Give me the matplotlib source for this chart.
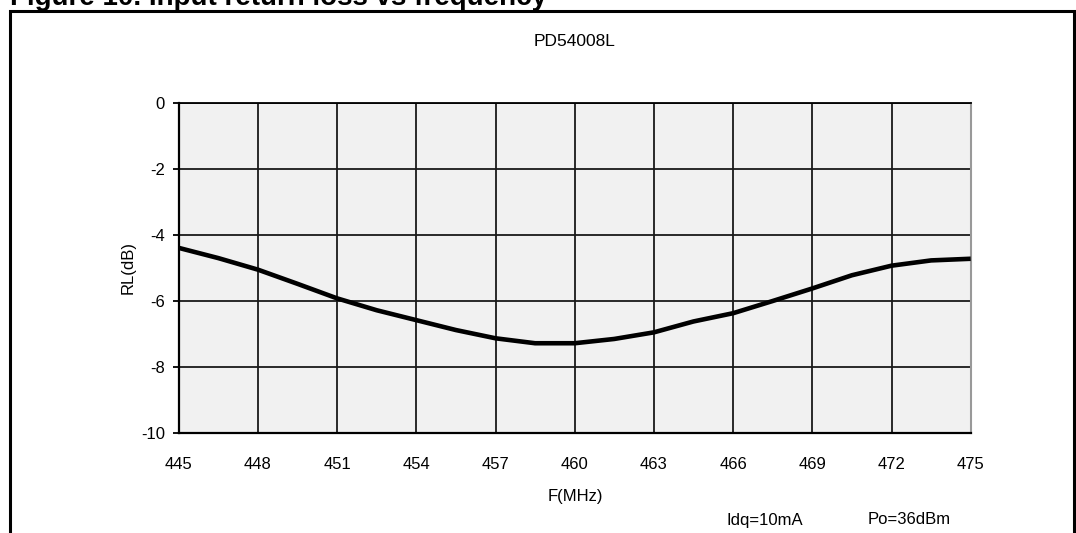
import numpy as np
import matplotlib
matplotlib.use("Agg")
import matplotlib.pyplot as plt
from matplotlib.patches import Rectangle

plt.rcParams['font.family'] = ['Liberation Sans', 'DejaVu Sans']
plt.rcParams['axes.unicode_minus'] = False

# data
freq = [445, 446.5, 448, 449.5, 451, 452.5, 454, 455.5, 457, 458.5, 460,
        461.5, 463, 464.5, 466, 467.5, 469, 470.5, 472, 473.5, 475]
rl = [-4.39, -4.70, -5.05, -5.48, -5.92, -6.28, -6.58, -6.88, -7.13, -7.28, -7.28,
      -7.15, -6.95, -6.62, -6.37, -6.00, -5.62, -5.22, -4.93, -4.77, -4.72]
xticks = [445, 448, 451, 454, 457, 460, 463, 466, 469, 472, 475]
yticks = [0, -2, -4, -6, -8, -10]

W, H = 1076, 533
fig = plt.figure(figsize=(W / 100, H / 100), dpi=100)

# outer frame of the figure box
fig.patches.append(Rectangle((9.5 / W, -0.05), (1074 - 9.5) / W, 1.05 - 10.5 / H,
                             transform=fig.transFigure, fill=False,
                             edgecolor="black", lw=2.2))
# caption of the page, cut by the top edge as in the source
fig.text(10 / W, 1 - 5 / H, "Figure 10. Input return loss vs frequency",
         fontsize=20, fontweight="bold", va="baseline", ha="left")

ax = fig.add_axes([178.7 / W, (H - 433) / H, 792 / W, 330 / H])
ax.set_facecolor("#f1f1f1")
ax.plot(freq, rl, color="black", lw=3.3, solid_capstyle="butt", zorder=3)

ax.set_xlim(445, 475)
ax.set_ylim(-10, 0)
ax.set_xticks(xticks)
ax.set_yticks(yticks)
ax.grid(True, color="#1a1a1a", lw=1.3, zorder=1)
ax.set_axisbelow(True)
ax.tick_params(axis="x", length=0, pad=17, labelsize=12)
ax.tick_params(axis="y", length=4, width=1.3, direction="out", pad=6, labelsize=12)
ax.spines["left"].set_linewidth(1.6)
ax.spines["bottom"].set_linewidth(1.6)
ax.spines["top"].set_linewidth(1.3)
ax.spines["right"].set_color("#999999")
ax.spines["right"].set_linewidth(1.5)
ax.set_ylabel("RL(dB)", fontsize=12, labelpad=4)

fig.text(575 / W, 1 - 42 / H, "PD54008L", fontsize=12.5, ha="center", va="center")
fig.text(575 / W, 1 - 497 / H, "F(MHz)", fontsize=12, ha="center", va="center")
fig.text(727 / W, 1 - 520 / H, "Idq=10mA", fontsize=12, ha="left", va="center")
fig.text(868 / W, 1 - 520 / H, "Po=36dBm", fontsize=12, ha="left", va="center")

fig.savefig("out.png", dpi=100)
